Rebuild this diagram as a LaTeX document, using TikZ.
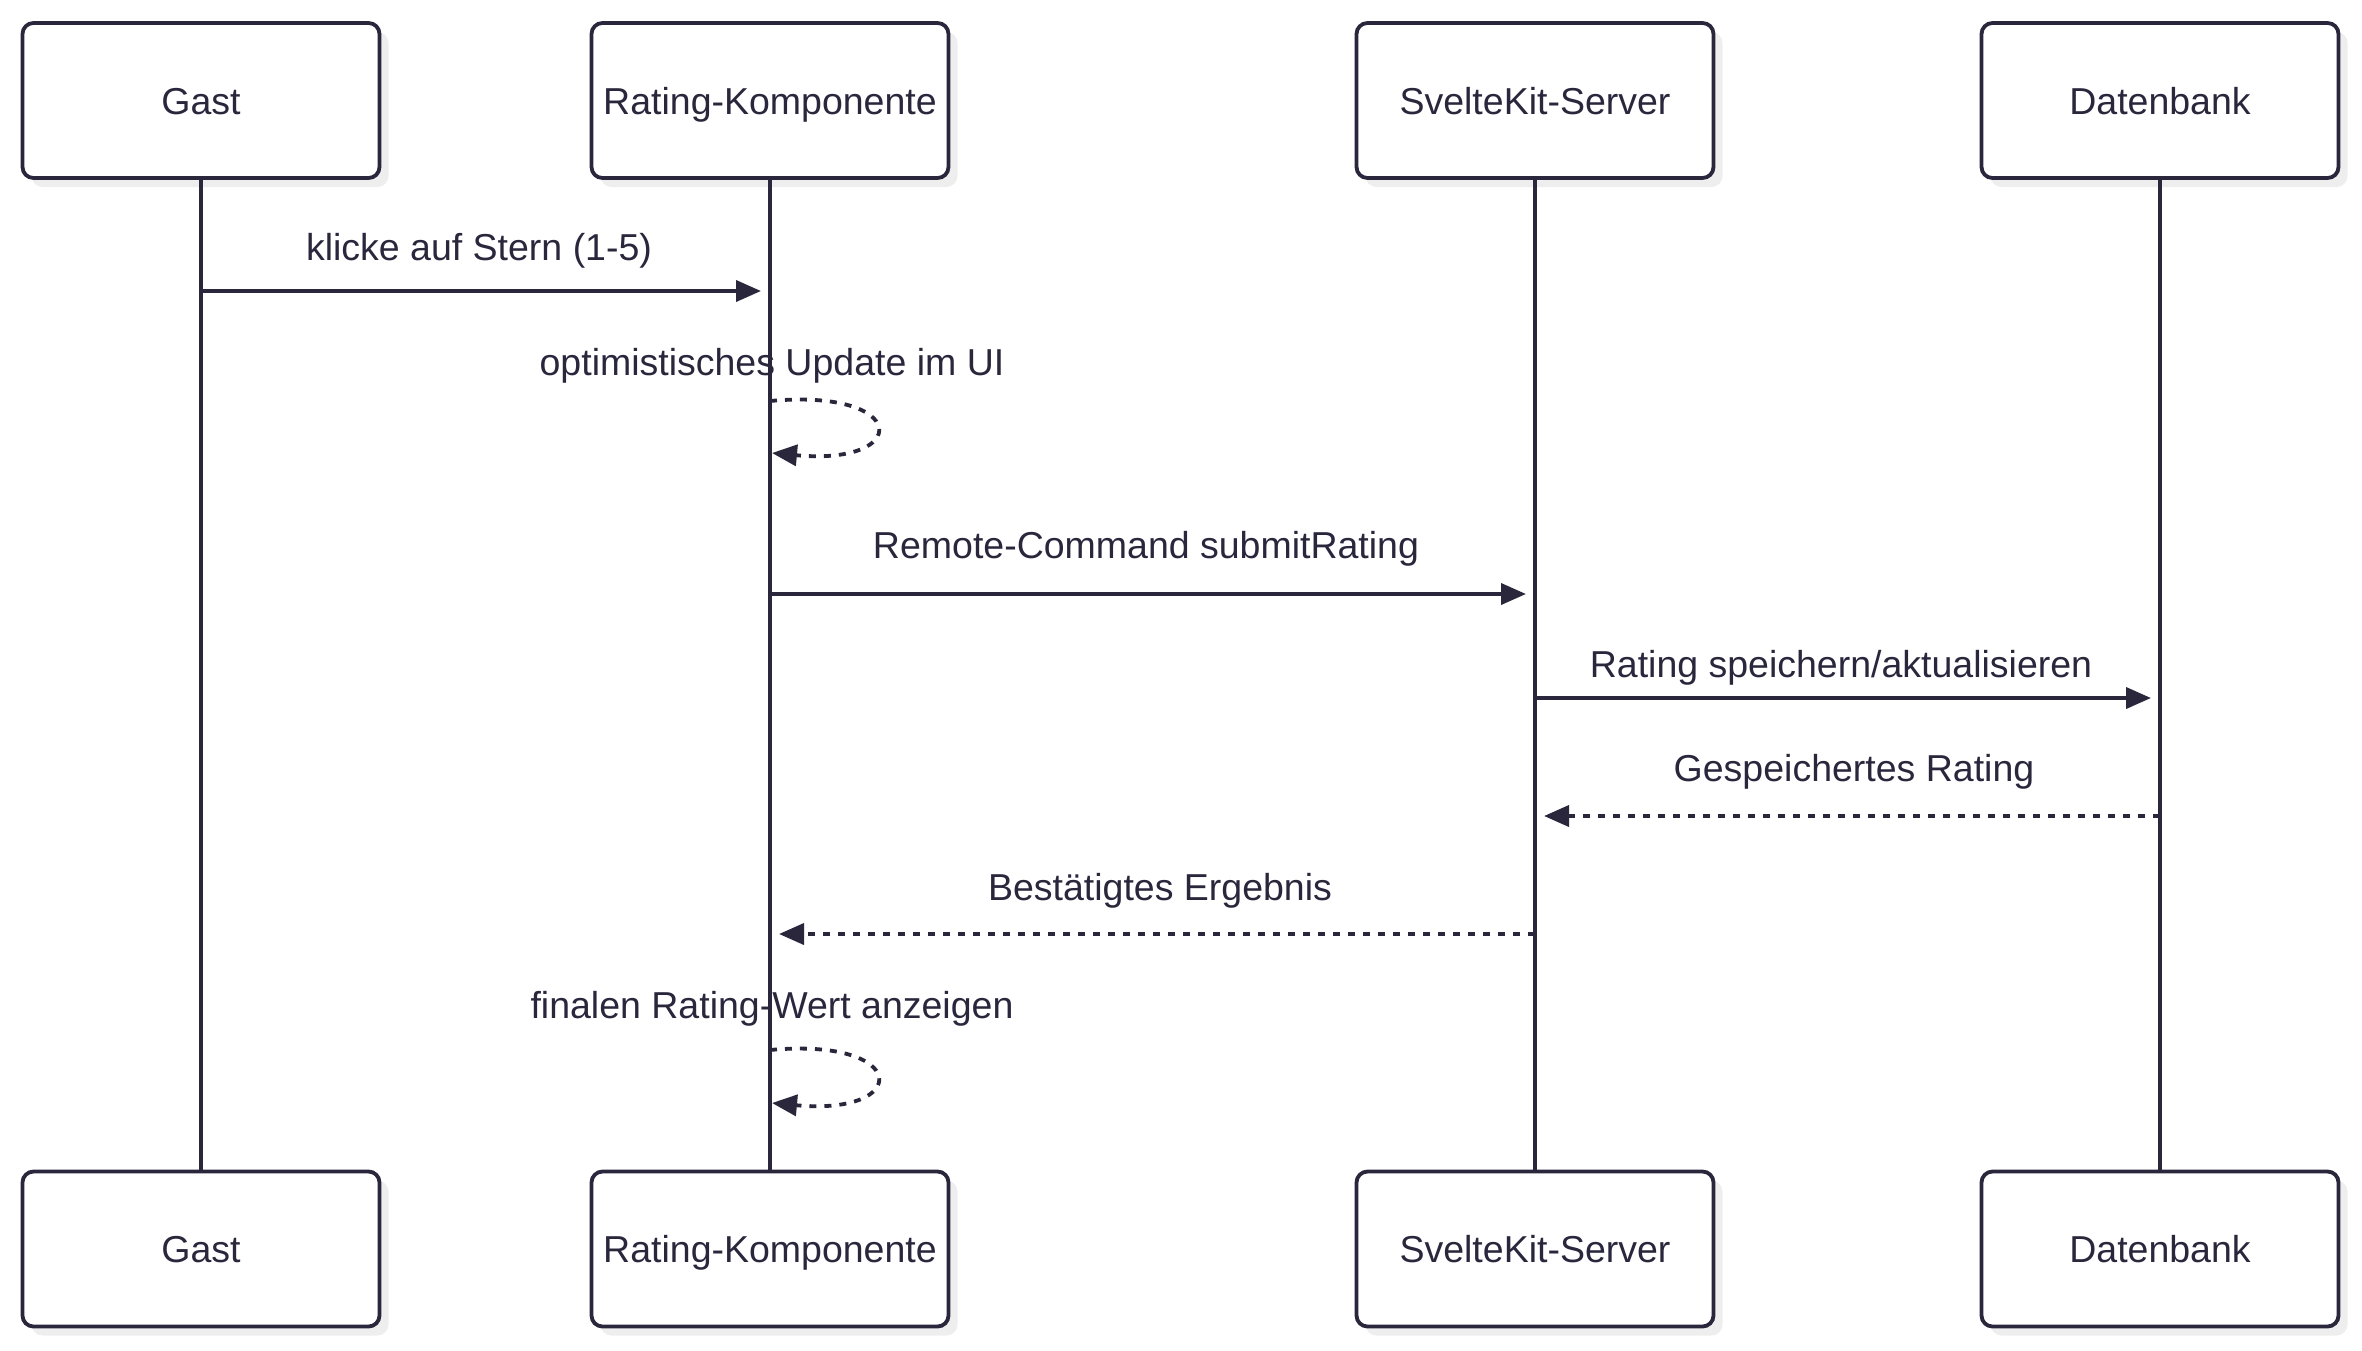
\documentclass[tikz,border=0pt]{standalone}
\usepackage{fontspec}
\setmainfont{Liberation Sans}
\usetikzlibrary{arrows.meta,shadows}
\definecolor{ink}{RGB}{42,39,61}
\definecolor{shade}{RGB}{238,238,238}
\begin{document}
\begin{tikzpicture}[x=1pt,y=-1pt,
  actor/.style={draw=ink, line width=3.8pt, fill=white, rounded corners=11pt,
    minimum width=357pt, minimum height=155pt, inner sep=0pt, text=ink,
    text height=27.5pt, text depth=0pt,
    font=\fontsize{37.5}{45}\selectfont,
    drop shadow={shadow xshift=9pt, shadow yshift=-9pt, fill=shade, opacity=1}},
  life/.style={draw=ink, line width=3.8pt},
  msg/.style={draw=ink, line width=3.8pt, -{Triangle[length=25pt,width=21pt]}},
  ret/.style={msg, dash pattern=on 7pt off 8pt},
  lbl/.style={text=ink, font=\fontsize{37.5}{45}\selectfont, anchor=base, inner sep=0pt}]
\useasboundingbox (0,0) rectangle (2362,1350);
% actors
\node[actor] (gT) at (201,100.5) {Gast};
\node[actor] (rT) at (770,100.5) {Rating-Komponente};
\node[actor] (sT) at (1535,100.5) {SvelteKit-Server};
\node[actor] (dT) at (2160,100.5) {Datenbank};
\node[actor] (gB) at (201,1249) {Gast};
\node[actor] (rB) at (770,1249) {Rating-Komponente};
\node[actor] (sB) at (1535,1249) {SvelteKit-Server};
\node[actor] (dB) at (2160,1249) {Datenbank};
% lifelines
\draw[life] (gT.south) -- (gB.north);
\draw[life] (rT.south) -- (rB.north);
\draw[life] (sT.south) -- (sB.north);
\draw[life] (dT.south) -- (dB.north);
% anchor points on lifelines
\coordinate (m1a) at (gT.south |- 0,291);
\coordinate (m1b) at ([xshift=-9pt]rT.south |- 0,291);
\coordinate (l1a) at (rT.south |- 0,401);
\coordinate (l1b) at ([xshift=2pt]rT.south |- 0,453);
\coordinate (m3a) at (rT.south |- 0,594);
\coordinate (m3b) at ([xshift=-9pt]sT.south |- 0,594);
\coordinate (m4a) at (sT.south |- 0,698);
\coordinate (m4b) at ([xshift=-9pt]dT.south |- 0,698);
\coordinate (m5a) at (dT.south |- 0,816);
\coordinate (m5b) at ([xshift=9pt]sT.south |- 0,816);
\coordinate (m6a) at (sT.south |- 0,934);
\coordinate (m6b) at ([xshift=9pt]rT.south |- 0,934);
\coordinate (l2a) at (rT.south |- 0,1050);
\coordinate (l2b) at ([xshift=2pt]rT.south |- 0,1103);
% messages
\draw[msg] (m1a) -- (m1b);
\draw[ret] (l1a) .. controls +(140,-13) and +(140,13) .. (l1b);
\draw[msg] (m3a) -- (m3b);
\draw[msg] (m4a) -- (m4b);
\draw[ret] (m5a) -- (m5b);
\draw[ret] (m6a) -- (m6b);
\draw[ret] (l2a) .. controls +(140,-13) and +(140,13) .. (l2b);
% labels
\node[lbl] (t1) at (479,260) {klicke auf Stern (1-5)};
\node[lbl] (t2) at (772,375) {optimistisches Update im UI};
\node[lbl] (t3) at (1146,558) {Remote-Command submitRating};
\node[lbl] (t4) at (1841,677) {Rating speichern/aktualisieren};
\node[lbl] (t5) at (1854,781) {Gespeichertes Rating};
\node[lbl] (t6) at (1160,900) {Bestätigtes Ergebnis};
\node[lbl] (t7) at (772,1018) {finalen Rating-Wert anzeigen};
\end{tikzpicture}
\end{document}
